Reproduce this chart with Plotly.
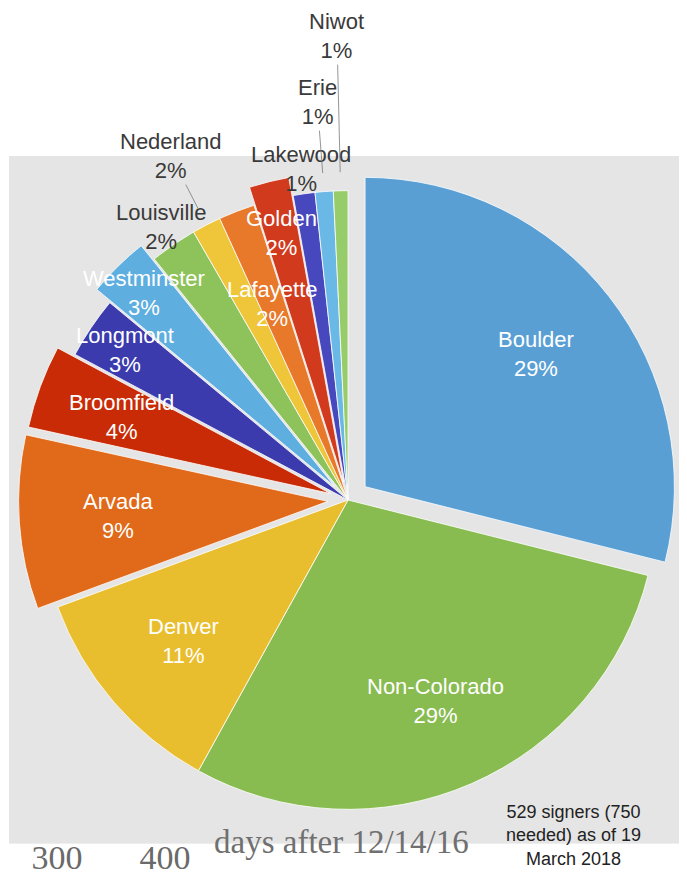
import math
import plotly.graph_objects as go

# signers by home town, 529 total (slice sizes)
cities = ["Boulder", "Non-Colorado", "Denver", "Arvada", "Broomfield", "Longmont",
          "Westminster", "Louisville", "Nederland", "Lafayette", "Golden",
          "Lakewood", "Erie", "Niwot"]
signers = [153, 154, 60, 48, 23, 17, 17, 13, 8, 10, 11, 6, 5, 4]

# old timeline chart underneath the pie
days_ticks = [300, 400]

palette = ["#5A9FD4", "#88BB50", "#E9BE2E", "#E1691A", "#C82B05", "#3B3BAE",
           "#5EAEE0", "#8EC25A", "#EFC63A", "#E8782A", "#D23A1E", "#4848BE",
           "#6AB8E6", "#97CC6A"]

# pulled-out slices (fraction of radius)
pull_by_city = {"Boulder": 0.07, "Arvada": 0.065, "Broomfield": 0.06,
                "Westminster": 0.06, "Golden": 0.06}
# where each label sits, as a fraction of the radius along the slice middle
label_radius = {"Boulder": 0.70, "Non-Colorado": 0.71, "Denver": 0.70, "Arvada": 0.68,
                "Broomfield": 0.72, "Longmont": 0.87, "Westminster": 0.88,
                "Louisville": 1.07, "Nederland": 1.25, "Lafayette": 0.68, "Golden": 0.83,
                "Lakewood": 1.08, "Erie": 1.29, "Niwot": 1.5}
dark_labels = ["Louisville", "Nederland", "Lakewood", "Erie", "Niwot"]
leader_lines = ["Nederland", "Erie", "Niwot"]

# page body has an 8px margin, so the figure is a bit smaller than the window
W, H = 671, 864
FONT = "Liberation Sans, Arial"
SERIF = "Liberation Serif, Times New Roman"

# pie placement in figure pixels
cx, cy, half = 340, 492, 331
pulls = [pull_by_city.get(c, 0) for c in cities]
r = half / (1 + max(pulls))

fig = go.Figure()

# empty trace so the grey plot area and day axis get drawn
fig.add_trace(go.Scatter(x=[], y=[], showlegend=False, hoverinfo="skip"))

fig.add_trace(
    go.Pie(
        labels=cities,
        values=signers,
        sort=False,
        direction="clockwise",
        rotation=0,
        pull=pulls,
        marker=dict(colors=palette, line=dict(color="white", width=0.8)),
        textinfo="none",
        domain=dict(x=[(cx - half) / W, (cx + half) / W],
                    y=[(H - cy - half) / H, (H - cy + half) / H]),
        automargin=False,
        hoverinfo="skip",
        showlegend=False,
    )
)

# slice labels, placed along each slice's middle angle
total = sum(signers)
start = 0
for city, n, p in zip(cities, signers, pulls):
    mid = math.radians(360 * (start + n / 2) / total)
    start += n
    ux, uy = math.sin(mid), -math.cos(mid)
    ox, oy = cx + p * r * ux, cy + p * r * uy
    lx = ox + label_radius[city] * r * ux
    ly = oy + label_radius[city] * r * uy
    text = f"{city}<br>{100 * n / total:.0f}%"
    color = "#3a3a3a" if city in dark_labels else "white"
    font = dict(family=FONT, size=22, color=color)
    if city in leader_lines:
        tx, ty = cx + 1.06 * r * ux, cy + 1.06 * r * uy
        fig.add_annotation(
            text=text, xref="paper", yref="paper", x=tx / W, y=1 - ty / H,
            ax=lx - tx, ay=ly - ty, showarrow=True, arrowhead=0,
            arrowwidth=0.8, arrowcolor="#7a7a7a", standoff=0, font=font,
        )
    else:
        fig.add_annotation(
            text=text, xref="paper", yref="paper", x=lx / W, y=1 - ly / H,
            xanchor="center", yanchor="middle", showarrow=False, font=font,
        )

fig.add_annotation(
    text="days after 12/14/16",
    xref="paper", yref="paper", x=204 / W, y=(H - 834) / H,
    xanchor="left", yanchor="middle", showarrow=False,
    font=dict(family=SERIF, size=33, color="#707070"),
)

fig.add_annotation(
    text="529 signers (750<br>needed) as of 19<br>March 2018",
    xref="paper", yref="paper", x=565 / W, y=(H - 827) / H,
    xanchor="center", yanchor="middle", showarrow=False,
    font=dict(family=FONT, size=18, color="#222222"),
)

fig.update_layout(
    width=W, height=H,
    margin=dict(l=0, r=0, t=0, b=0, autoexpand=False),
    paper_bgcolor="white",
    plot_bgcolor="#E5E5E5",
    showlegend=False,
    xaxis=dict(
        domain=[1 / W, 1], range=[255.56, 875.9],
        tickvals=days_ticks, showgrid=False, zeroline=False,
        ticks="", showline=True, linecolor="#eeeeee", automargin=False,
        ticklabelstandoff=-16,
        tickfont=dict(family=SERIF, size=34, color="#6a6a6a"),
        fixedrange=True,
    ),
    yaxis=dict(
        domain=[(H - 835) / H, (H - 148) / H], automargin=False,
        showgrid=False, zeroline=False, showticklabels=False, fixedrange=True,
    ),
)

fig.write_html("out.html")
